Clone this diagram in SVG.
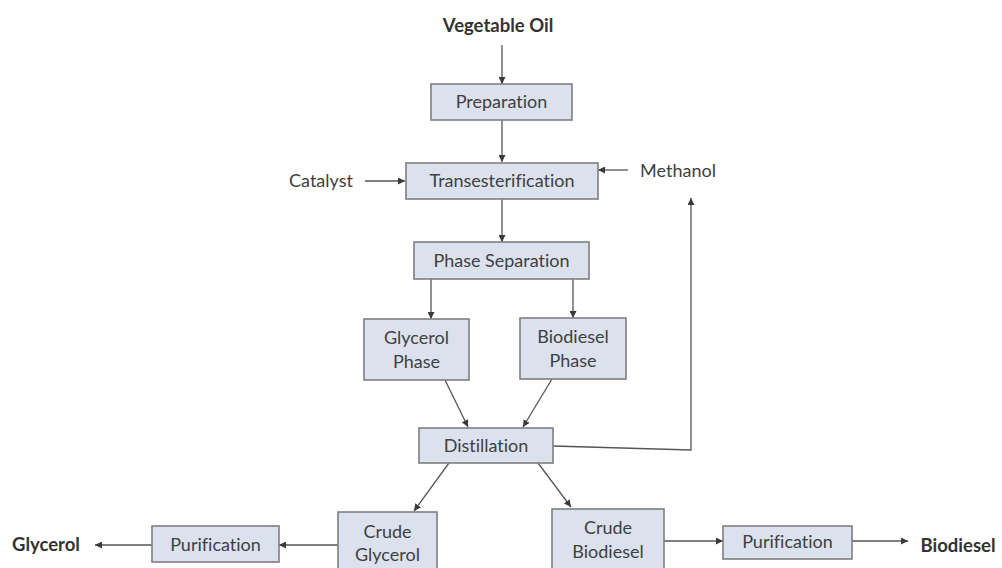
<svg xmlns="http://www.w3.org/2000/svg" width="1002" height="568" viewBox="0 0 1002 568">
<defs>
<marker id="ah" viewBox="0 0 10 10" refX="10" refY="5" markerWidth="7" markerHeight="7" markerUnits="userSpaceOnUse" orient="auto">
<path d="M0,0 L10,5 L0,10 z" fill="#3a3a3a"/>
</marker>
<style>
.box{fill:#dbe2ee;stroke:#7f7f7f;stroke-width:1.6}
.t{font-family:Lato,"Open Sans",sans-serif;font-size:18px;fill:#404040;text-anchor:middle;font-variant-ligatures:none}
.b{font-family:Lato,"Open Sans",sans-serif;font-size:18.5px;font-weight:bold;fill:#333;text-anchor:middle}
.c{fill:none;stroke:#555;stroke-width:1.3;marker-end:url(#ah)}
</style>
</defs>
<rect width="1002" height="568" fill="#fff"/>
<g id="connectors">
<line class="c" x1="502" y1="45" x2="502" y2="84"/>
<line class="c" x1="502" y1="120" x2="502" y2="162"/>
<line class="c" x1="365" y1="181" x2="405" y2="181"/>
<line class="c" x1="628" y1="170" x2="598" y2="170"/>
<line class="c" x1="502" y1="199" x2="502" y2="242"/>
<line class="c" x1="431" y1="279" x2="431" y2="319"/>
<line class="c" x1="573" y1="279" x2="573" y2="318"/>
<line class="c" x1="445" y1="380" x2="468" y2="427"/>
<line class="c" x1="552" y1="379" x2="523" y2="427"/>
<polyline class="c" points="553,446 691,450 691,198"/>
<line class="c" x1="449" y1="463" x2="414" y2="511"/>
<line class="c" x1="538" y1="463" x2="571" y2="507"/>
<line class="c" x1="338" y1="545" x2="279" y2="545"/>
<line class="c" x1="152" y1="545" x2="95" y2="545"/>
<line class="c" x1="664" y1="541" x2="723" y2="541"/>
<line class="c" x1="852" y1="541" x2="908" y2="541"/>
</g>
<g id="vegetable-oil"><text class="b" x="498" y="32">Vegetable Oil</text></g>
<g id="preparation"><rect class="box" x="431" y="84" width="141" height="36"/><text class="t" x="501.5" y="108">Preparation</text></g>
<g id="catalyst"><text class="t" x="321" y="187">Catalyst</text></g>
<g id="methanol"><text class="t" x="678" y="177">Methanol</text></g>
<g id="transesterification"><rect class="box" x="406" y="163" width="192" height="36"/><text class="t" x="502" y="187">Transesterification</text></g>
<g id="phase-separation"><rect class="box" x="414" y="242" width="175" height="37"/><text class="t" x="501.5" y="267">Phase Separation</text></g>
<g id="glycerol-phase"><rect class="box" x="364" y="319" width="105" height="61"/><text class="t" x="416.5" y="344">Glycerol</text><text class="t" x="416.5" y="368">Phase</text></g>
<g id="biodiesel-phase"><rect class="box" x="520" y="318" width="106" height="61"/><text class="t" x="573" y="343">Biodiesel</text><text class="t" x="573" y="367">Phase</text></g>
<g id="distillation"><rect class="box" x="419" y="428" width="134" height="35"/><text class="t" x="486" y="452">Distillation</text></g>
<g id="crude-glycerol"><rect class="box" x="338" y="512" width="99" height="62"/><text class="t" x="387.5" y="538">Crude</text><text class="t" x="387.5" y="561">Glycerol</text></g>
<g id="crude-biodiesel"><rect class="box" x="552" y="509" width="112" height="65"/><text class="t" x="608" y="534">Crude</text><text class="t" x="608" y="558">Biodiesel</text></g>
<g id="purification-left"><rect class="box" x="152" y="526" width="127" height="36"/><text class="t" x="215.5" y="551">Purification</text></g>
<g id="purification-right"><rect class="box" x="723" y="526" width="129" height="33"/><text class="t" x="787.5" y="548">Purification</text></g>
<g id="glycerol"><text class="b" x="46" y="551">Glycerol</text></g>
<g id="biodiesel"><text class="b" x="958" y="552">Biodiesel</text></g>
</svg>
